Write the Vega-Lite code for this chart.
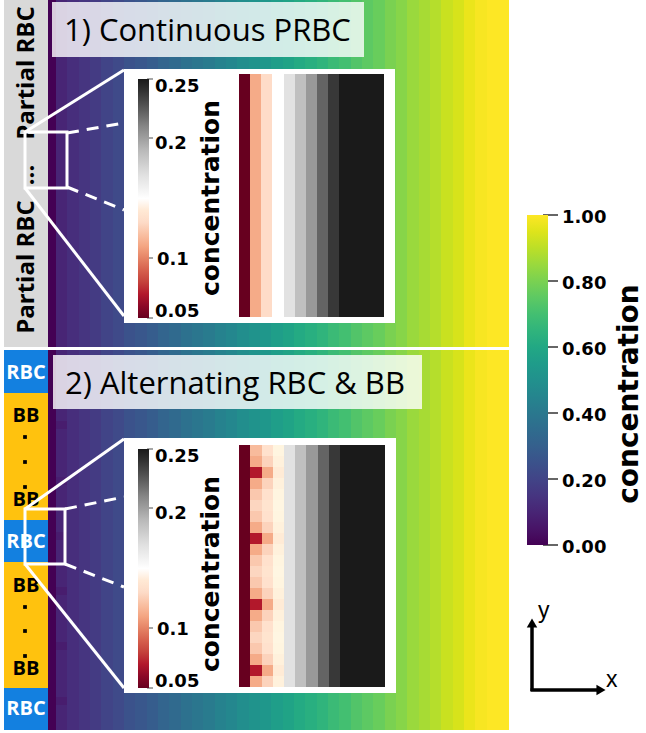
{
  "$schema": "https://vega.github.io/schema/vega-lite/v6.json",
  "width": 646,
  "height": 733,
  "padding": 0,
  "autosize": {"type": "none"},
  "background": "white",
  "config": {"view": {"stroke": null}},
  "datasets": {
    "field": [
      {"left":48,"right":56,"top":0,"bottom":347,"concentration":0},
      {"left":56,"right":67,"top":0,"bottom":347,"concentration":0.10},
      {"left":67,"right":79,"top":0,"bottom":347,"concentration":0.13},
      {"left":79,"right":90,"top":0,"bottom":347,"concentration":0.15},
      {"left":90,"right":101,"top":0,"bottom":347,"concentration":0.17},
      {"left":101,"right":113,"top":0,"bottom":347,"concentration":0.20},
      {"left":113,"right":124,"top":0,"bottom":347,"concentration":0.22},
      {"left":124,"right":135,"top":0,"bottom":347,"concentration":0.25},
      {"left":135,"right":147,"top":0,"bottom":347,"concentration":0.27},
      {"left":147,"right":158,"top":0,"bottom":347,"concentration":0.29},
      {"left":158,"right":169,"top":0,"bottom":347,"concentration":0.32},
      {"left":169,"right":181,"top":0,"bottom":347,"concentration":0.34},
      {"left":181,"right":192,"top":0,"bottom":347,"concentration":0.37},
      {"left":192,"right":203,"top":0,"bottom":347,"concentration":0.39},
      {"left":203,"right":215,"top":0,"bottom":347,"concentration":0.41},
      {"left":215,"right":226,"top":0,"bottom":347,"concentration":0.44},
      {"left":226,"right":237,"top":0,"bottom":347,"concentration":0.46},
      {"left":237,"right":249,"top":0,"bottom":347,"concentration":0.49},
      {"left":249,"right":260,"top":0,"bottom":347,"concentration":0.51},
      {"left":260,"right":271,"top":0,"bottom":347,"concentration":0.53},
      {"left":271,"right":283,"top":0,"bottom":347,"concentration":0.56},
      {"left":283,"right":294,"top":0,"bottom":347,"concentration":0.58},
      {"left":294,"right":305,"top":0,"bottom":347,"concentration":0.61},
      {"left":305,"right":317,"top":0,"bottom":347,"concentration":0.63},
      {"left":317,"right":328,"top":0,"bottom":347,"concentration":0.65},
      {"left":328,"right":339,"top":0,"bottom":347,"concentration":0.68},
      {"left":339,"right":351,"top":0,"bottom":347,"concentration":0.70},
      {"left":351,"right":362,"top":0,"bottom":347,"concentration":0.73},
      {"left":362,"right":373,"top":0,"bottom":347,"concentration":0.75},
      {"left":373,"right":385,"top":0,"bottom":347,"concentration":0.77},
      {"left":385,"right":396,"top":0,"bottom":347,"concentration":0.80},
      {"left":396,"right":407,"top":0,"bottom":347,"concentration":0.82},
      {"left":407,"right":419,"top":0,"bottom":347,"concentration":0.85},
      {"left":419,"right":430,"top":0,"bottom":347,"concentration":0.87},
      {"left":430,"right":441,"top":0,"bottom":347,"concentration":0.89},
      {"left":441,"right":453,"top":0,"bottom":347,"concentration":0.92},
      {"left":453,"right":464,"top":0,"bottom":347,"concentration":0.94},
      {"left":464,"right":475,"top":0,"bottom":347,"concentration":0.97},
      {"left":475,"right":487,"top":0,"bottom":347,"concentration":0.99},
      {"left":487,"right":498,"top":0,"bottom":347,"concentration":1.0},
      {"left":498,"right":509,"top":0,"bottom":347,"concentration":1.0},
      {"left":48,"right":56,"top":350,"bottom":730,"concentration":0},
      {"left":56,"right":67,"top":350,"bottom":730,"concentration":0.10},
      {"left":67,"right":79,"top":350,"bottom":730,"concentration":0.13},
      {"left":79,"right":90,"top":350,"bottom":730,"concentration":0.15},
      {"left":90,"right":101,"top":350,"bottom":730,"concentration":0.17},
      {"left":101,"right":113,"top":350,"bottom":730,"concentration":0.20},
      {"left":113,"right":124,"top":350,"bottom":730,"concentration":0.22},
      {"left":124,"right":135,"top":350,"bottom":730,"concentration":0.25},
      {"left":135,"right":147,"top":350,"bottom":730,"concentration":0.27},
      {"left":147,"right":158,"top":350,"bottom":730,"concentration":0.29},
      {"left":158,"right":169,"top":350,"bottom":730,"concentration":0.32},
      {"left":169,"right":181,"top":350,"bottom":730,"concentration":0.34},
      {"left":181,"right":192,"top":350,"bottom":730,"concentration":0.37},
      {"left":192,"right":203,"top":350,"bottom":730,"concentration":0.39},
      {"left":203,"right":215,"top":350,"bottom":730,"concentration":0.41},
      {"left":215,"right":226,"top":350,"bottom":730,"concentration":0.44},
      {"left":226,"right":237,"top":350,"bottom":730,"concentration":0.46},
      {"left":237,"right":249,"top":350,"bottom":730,"concentration":0.49},
      {"left":249,"right":260,"top":350,"bottom":730,"concentration":0.51},
      {"left":260,"right":271,"top":350,"bottom":730,"concentration":0.53},
      {"left":271,"right":283,"top":350,"bottom":730,"concentration":0.56},
      {"left":283,"right":294,"top":350,"bottom":730,"concentration":0.58},
      {"left":294,"right":305,"top":350,"bottom":730,"concentration":0.61},
      {"left":305,"right":317,"top":350,"bottom":730,"concentration":0.63},
      {"left":317,"right":328,"top":350,"bottom":730,"concentration":0.65},
      {"left":328,"right":339,"top":350,"bottom":730,"concentration":0.68},
      {"left":339,"right":351,"top":350,"bottom":730,"concentration":0.70},
      {"left":351,"right":362,"top":350,"bottom":730,"concentration":0.73},
      {"left":362,"right":373,"top":350,"bottom":730,"concentration":0.75},
      {"left":373,"right":385,"top":350,"bottom":730,"concentration":0.77},
      {"left":385,"right":396,"top":350,"bottom":730,"concentration":0.80},
      {"left":396,"right":407,"top":350,"bottom":730,"concentration":0.82},
      {"left":407,"right":419,"top":350,"bottom":730,"concentration":0.85},
      {"left":419,"right":430,"top":350,"bottom":730,"concentration":0.87},
      {"left":430,"right":441,"top":350,"bottom":730,"concentration":0.89},
      {"left":441,"right":453,"top":350,"bottom":730,"concentration":0.92},
      {"left":453,"right":464,"top":350,"bottom":730,"concentration":0.94},
      {"left":464,"right":475,"top":350,"bottom":730,"concentration":0.97},
      {"left":475,"right":487,"top":350,"bottom":730,"concentration":0.99},
      {"left":487,"right":498,"top":350,"bottom":730,"concentration":1.0},
      {"left":498,"right":509,"top":350,"bottom":730,"concentration":1.0},
      {"left":56,"right":67,"top":421,"bottom":429,"concentration":0.075},
      {"left":56,"right":67,"top":477,"bottom":485,"concentration":0.08},
      {"left":56,"right":67,"top":532,"bottom":540,"concentration":0.075},
      {"left":56,"right":67,"top":587,"bottom":595,"concentration":0.075},
      {"left":56,"right":67,"top":642,"bottom":650,"concentration":0.075},
      {"left":56,"right":67,"top":697,"bottom":705,"concentration":0.075}
    ],
    "blocks": [
      {"left":4,"right":48,"top":0,"bottom":347,"kind":"Partial RBC"},
      {"left":4,"right":48,"top":350,"bottom":393,"kind":"RBC"},
      {"left":4,"right":48,"top":393,"bottom":520,"kind":"BB"},
      {"left":4,"right":48,"top":520,"bottom":562,"kind":"RBC"},
      {"left":4,"right":48,"top":562,"bottom":688,"kind":"BB"},
      {"left":4,"right":48,"top":688,"bottom":730,"kind":"RBC"}
    ],
    "rotated_labels": [
      {"x":26.5,"y":73,"label":"Partial RBC"},
      {"x":26.5,"y":175,"label":"..."},
      {"x":26.5,"y":267,"label":"Partial RBC"}
    ],
    "rbc_labels": [
      {"x":26,"y":373,"label":"RBC"},
      {"x":26,"y":542,"label":"RBC"},
      {"x":26,"y":709,"label":"RBC"}
    ],
    "bb_labels": [
      {"x":26,"y":416,"label":"BB"},
      {"x":26,"y":500,"label":"BB"},
      {"x":26,"y":586,"label":"BB"},
      {"x":26,"y":669,"label":"BB"}
    ],
    "dots": [
      {"x":25,"y":437},{"x":25,"y":462},{"x":25,"y":487},
      {"x":25,"y":607},{"x":25,"y":631},{"x":25,"y":656}
    ],
    "title_boxes": [
      {"left":52,"right":364,"top":2,"bottom":57},
      {"left":53,"right":422,"top":355,"bottom":409}
    ],
    "title_texts": [
      {"x":64,"y":41,"label":"1) Continuous PRBC"},
      {"x":65,"y":394,"label":"2) Alternating RBC & BB"}
    ],
    "zoom_frames": [
      {"left":25,"right":67,"top":132,"bottom":188},
      {"left":25,"right":65,"top":509,"bottom":564}
    ],
    "solid_lines": [
      {"x":25,"y":132,"x_end":124,"y_end":70},
      {"x":25,"y":188,"x_end":124,"y_end":316},
      {"x":25,"y":509,"x_end":124,"y_end":439},
      {"x":25,"y":564,"x_end":124,"y_end":688}
    ],
    "dashed_lines": [
      {"x":67,"y":133,"x_end":124,"y_end":123},
      {"x":67,"y":187,"x_end":124,"y_end":210},
      {"x":65,"y":509,"x_end":124,"y_end":497},
      {"x":65,"y":564,"x_end":124,"y_end":587}
    ],
    "inset_boxes": [
      {"left":124,"right":395,"top":69,"bottom":323},
      {"left":124,"right":396,"top":438,"bottom":693}
    ],
    "inset1": [
      {"left":239,"right":250,"top":74,"bottom":317,"concentration":0.05},
      {"left":250,"right":261,"top":74,"bottom":317,"concentration":0.112},
      {"left":261,"right":272,"top":74,"bottom":317,"concentration":0.131},
      {"left":272,"right":284,"top":74,"bottom":317,"concentration":0.15},
      {"left":284,"right":295,"top":74,"bottom":317,"concentration":0.169},
      {"left":295,"right":306,"top":74,"bottom":317,"concentration":0.187},
      {"left":306,"right":317,"top":74,"bottom":317,"concentration":0.203},
      {"left":317,"right":328,"top":74,"bottom":317,"concentration":0.222},
      {"left":328,"right":339,"top":74,"bottom":317,"concentration":0.238},
      {"left":339,"right":350,"top":74,"bottom":317,"concentration":0.25},
      {"left":350,"right":361,"top":74,"bottom":317,"concentration":0.25},
      {"left":361,"right":373,"top":74,"bottom":317,"concentration":0.25},
      {"left":373,"right":384,"top":74,"bottom":317,"concentration":0.25}
    ],
    "inset2": [
      {"left":239,"right":250,"top":445,"bottom":687,"concentration":0.05},
      {"left":284,"right":295,"top":445,"bottom":687,"concentration":0.169},
      {"left":295,"right":306,"top":445,"bottom":687,"concentration":0.187},
      {"left":306,"right":318,"top":445,"bottom":687,"concentration":0.203},
      {"left":318,"right":329,"top":445,"bottom":687,"concentration":0.222},
      {"left":329,"right":340,"top":445,"bottom":687,"concentration":0.238},
      {"left":340,"right":351,"top":445,"bottom":687,"concentration":0.25},
      {"left":351,"right":362,"top":445,"bottom":687,"concentration":0.25},
      {"left":362,"right":374,"top":445,"bottom":687,"concentration":0.25},
      {"left":374,"right":385,"top":445,"bottom":687,"concentration":0.25},
      {"left":250,"right":262,"top":445,"bottom":456,"concentration":0.118},
      {"left":250,"right":262,"top":456,"bottom":467,"concentration":0.112},
      {"left":250,"right":262,"top":467,"bottom":478,"concentration":0.07},
      {"left":250,"right":262,"top":478,"bottom":489,"concentration":0.112},
      {"left":250,"right":262,"top":489,"bottom":500,"concentration":0.123},
      {"left":250,"right":262,"top":500,"bottom":511,"concentration":0.128},
      {"left":250,"right":262,"top":511,"bottom":522,"concentration":0.123},
      {"left":250,"right":262,"top":522,"bottom":533,"concentration":0.112},
      {"left":250,"right":262,"top":533,"bottom":544,"concentration":0.07},
      {"left":250,"right":262,"top":544,"bottom":555,"concentration":0.112},
      {"left":250,"right":262,"top":555,"bottom":566,"concentration":0.123},
      {"left":250,"right":262,"top":566,"bottom":577,"concentration":0.128},
      {"left":250,"right":262,"top":577,"bottom":588,"concentration":0.123},
      {"left":250,"right":262,"top":588,"bottom":599,"concentration":0.112},
      {"left":250,"right":262,"top":599,"bottom":610,"concentration":0.07},
      {"left":250,"right":262,"top":610,"bottom":621,"concentration":0.112},
      {"left":250,"right":262,"top":621,"bottom":632,"concentration":0.123},
      {"left":250,"right":262,"top":632,"bottom":643,"concentration":0.128},
      {"left":250,"right":262,"top":643,"bottom":654,"concentration":0.123},
      {"left":250,"right":262,"top":654,"bottom":665,"concentration":0.112},
      {"left":250,"right":262,"top":665,"bottom":676,"concentration":0.07},
      {"left":250,"right":262,"top":676,"bottom":687,"concentration":0.112},
      {"left":262,"right":273,"top":445,"bottom":456,"concentration":0.134},
      {"left":262,"right":273,"top":456,"bottom":467,"concentration":0.127},
      {"left":262,"right":273,"top":467,"bottom":478,"concentration":0.112},
      {"left":262,"right":273,"top":478,"bottom":489,"concentration":0.127},
      {"left":262,"right":273,"top":489,"bottom":500,"concentration":0.134},
      {"left":262,"right":273,"top":500,"bottom":511,"concentration":0.136},
      {"left":262,"right":273,"top":511,"bottom":522,"concentration":0.134},
      {"left":262,"right":273,"top":522,"bottom":533,"concentration":0.127},
      {"left":262,"right":273,"top":533,"bottom":544,"concentration":0.112},
      {"left":262,"right":273,"top":544,"bottom":555,"concentration":0.127},
      {"left":262,"right":273,"top":555,"bottom":566,"concentration":0.134},
      {"left":262,"right":273,"top":566,"bottom":577,"concentration":0.136},
      {"left":262,"right":273,"top":577,"bottom":588,"concentration":0.134},
      {"left":262,"right":273,"top":588,"bottom":599,"concentration":0.127},
      {"left":262,"right":273,"top":599,"bottom":610,"concentration":0.112},
      {"left":262,"right":273,"top":610,"bottom":621,"concentration":0.127},
      {"left":262,"right":273,"top":621,"bottom":632,"concentration":0.134},
      {"left":262,"right":273,"top":632,"bottom":643,"concentration":0.136},
      {"left":262,"right":273,"top":643,"bottom":654,"concentration":0.134},
      {"left":262,"right":273,"top":654,"bottom":665,"concentration":0.127},
      {"left":262,"right":273,"top":665,"bottom":676,"concentration":0.112},
      {"left":262,"right":273,"top":676,"bottom":687,"concentration":0.127},
      {"left":273,"right":284,"top":445,"bottom":456,"concentration":0.148},
      {"left":273,"right":284,"top":456,"bottom":467,"concentration":0.145},
      {"left":273,"right":284,"top":467,"bottom":478,"concentration":0.141},
      {"left":273,"right":284,"top":478,"bottom":489,"concentration":0.145},
      {"left":273,"right":284,"top":489,"bottom":500,"concentration":0.148},
      {"left":273,"right":284,"top":500,"bottom":511,"concentration":0.149},
      {"left":273,"right":284,"top":511,"bottom":522,"concentration":0.148},
      {"left":273,"right":284,"top":522,"bottom":533,"concentration":0.145},
      {"left":273,"right":284,"top":533,"bottom":544,"concentration":0.141},
      {"left":273,"right":284,"top":544,"bottom":555,"concentration":0.145},
      {"left":273,"right":284,"top":555,"bottom":566,"concentration":0.148},
      {"left":273,"right":284,"top":566,"bottom":577,"concentration":0.149},
      {"left":273,"right":284,"top":577,"bottom":588,"concentration":0.148},
      {"left":273,"right":284,"top":588,"bottom":599,"concentration":0.145},
      {"left":273,"right":284,"top":599,"bottom":610,"concentration":0.141},
      {"left":273,"right":284,"top":610,"bottom":621,"concentration":0.145},
      {"left":273,"right":284,"top":621,"bottom":632,"concentration":0.148},
      {"left":273,"right":284,"top":632,"bottom":643,"concentration":0.149},
      {"left":273,"right":284,"top":643,"bottom":654,"concentration":0.148},
      {"left":273,"right":284,"top":654,"bottom":665,"concentration":0.145},
      {"left":273,"right":284,"top":665,"bottom":676,"concentration":0.141},
      {"left":273,"right":284,"top":676,"bottom":687,"concentration":0.145}
    ],
    "inset_labels": [
      {"x":155,"y":87,"label":"0.25"},
      {"x":155,"y":144,"label":"0.2"},
      {"x":157,"y":260,"label":"0.1"},
      {"x":155,"y":312,"label":"0.05"},
      {"x":155,"y":457,"label":"0.25"},
      {"x":155,"y":514,"label":"0.2"},
      {"x":157,"y":630,"label":"0.1"},
      {"x":155,"y":682,"label":"0.05"}
    ],
    "inset_ticks": [
      {"x":147,"y":79,"x_end":153,"y_end":79},
      {"x":147,"y":138,"x_end":153,"y_end":138},
      {"x":147,"y":258,"x_end":153,"y_end":258},
      {"x":147,"y":318,"x_end":153,"y_end":318},
      {"x":147,"y":449,"x_end":153,"y_end":449},
      {"x":147,"y":508,"x_end":153,"y_end":508},
      {"x":147,"y":628,"x_end":153,"y_end":628},
      {"x":147,"y":688,"x_end":153,"y_end":688}
    ],
    "inset_titles": [
      {"x":211,"y":198,"label":"concentration"},
      {"x":211,"y":574,"label":"concentration"}
    ],
    "bar_ticks": [
      {"x":543,"y":215,"x_end":558,"y_end":215},
      {"x":543,"y":281,"x_end":558,"y_end":281},
      {"x":543,"y":347,"x_end":558,"y_end":347},
      {"x":543,"y":413,"x_end":558,"y_end":413},
      {"x":543,"y":479,"x_end":558,"y_end":479},
      {"x":543,"y":545,"x_end":558,"y_end":545}
    ],
    "bar_labels": [
      {"x":562,"y":218,"label":"1.00"},
      {"x":562,"y":284,"label":"0.80"},
      {"x":562,"y":350,"label":"0.60"},
      {"x":562,"y":416,"label":"0.40"},
      {"x":562,"y":482,"label":"0.20"},
      {"x":562,"y":548,"label":"0.00"}
    ],
    "bar_title": [{"x":630,"y":394,"label":"concentration"}],
    "arrow_lines": [
      {"x":532,"y":626,"x_end":532,"y_end":691},
      {"x":530.5,"y":690,"x_end":598,"y_end":690}
    ],
    "arrow_up": [{"x":532,"y":623}],
    "arrow_right": [{"x":601,"y":690}],
    "arrow_labels": [
      {"x":538,"y":618,"label":"y"},
      {"x":606,"y":687,"label":"x"}
    ]
  },
  "resolve": {"scale": {"color": "independent"}, "legend": {"color": "independent"}},
  "layer": [
    {
      "data": {"name": "field"},
      "mark": {"type": "rect"},
      "encoding": {
        "x": {"field": "left", "type": "quantitative", "scale": {"domain": [0, 646], "nice": false, "zero": false}, "axis": null},
        "x2": {"field": "right"},
        "y": {"field": "top", "type": "quantitative", "scale": {"domain": [0, 733], "reverse": true, "nice": false, "zero": false}, "axis": null},
        "y2": {"field": "bottom"},
        "color": {"field": "concentration", "type": "quantitative",
          "scale": {"scheme": "viridis", "domain": [0, 1], "clamp": true},
          "legend": {"orient": "none", "legendX": 527, "legendY": 215, "direction": "vertical", "gradientLength": 330, "gradientThickness": 21, "gradientStrokeWidth": 0, "title": null, "labelExpr": "''", "labelOpacity": 0, "padding": 0}}
      }
    },
    {
      "data": {"name": "blocks"},
      "mark": {"type": "rect"},
      "encoding": {
        "x": {"field": "left", "type": "quantitative", "axis": null},
        "x2": {"field": "right"},
        "y": {"field": "top", "type": "quantitative", "axis": null},
        "y2": {"field": "bottom"},
        "color": {"field": "kind", "type": "nominal", "scale": {"domain": ["Partial RBC", "RBC", "BB"], "range": ["#d9d9d9", "#1380e0", "#ffc20e"]}, "legend": null}
      }
    },
    {
      "data": {"name": "rotated_labels"},
      "mark": {"type": "text", "angle": 270, "font": "Open Sans", "fontWeight": "bold", "fontSize": 24, "align": "center", "baseline": "middle", "color": "black"},
      "encoding": {
        "x": {"field": "x", "type": "quantitative", "axis": null},
        "y": {"field": "y", "type": "quantitative", "axis": null},
        "text": {"field": "label"}
      }
    },
    {
      "data": {"name": "rbc_labels"},
      "mark": {"type": "text", "font": "Open Sans", "fontWeight": "bold", "fontSize": 20, "align": "center", "baseline": "middle", "color": "white"},
      "encoding": {
        "x": {"field": "x", "type": "quantitative", "axis": null},
        "y": {"field": "y", "type": "quantitative", "axis": null},
        "text": {"field": "label"}
      }
    },
    {
      "data": {"name": "bb_labels"},
      "mark": {"type": "text", "font": "Open Sans", "fontWeight": "bold", "fontSize": 20, "align": "center", "baseline": "middle", "color": "black"},
      "encoding": {
        "x": {"field": "x", "type": "quantitative", "axis": null},
        "y": {"field": "y", "type": "quantitative", "axis": null},
        "text": {"field": "label"}
      }
    },
    {
      "data": {"name": "dots"},
      "mark": {"type": "point", "shape": "square", "filled": true, "size": 14, "color": "black", "opacity": 1},
      "encoding": {
        "x": {"field": "x", "type": "quantitative", "axis": null},
        "y": {"field": "y", "type": "quantitative", "axis": null}
      }
    },
    {
      "data": {"name": "title_boxes"},
      "mark": {"type": "rect", "color": "white", "opacity": 0.8},
      "encoding": {
        "x": {"field": "left", "type": "quantitative", "axis": null},
        "x2": {"field": "right"},
        "y": {"field": "top", "type": "quantitative", "axis": null},
        "y2": {"field": "bottom"}
      }
    },
    {
      "data": {"name": "title_texts"},
      "mark": {"type": "text", "font": "Open Sans", "fontSize": 31, "align": "left", "baseline": "alphabetic", "color": "black"},
      "encoding": {
        "x": {"field": "x", "type": "quantitative", "axis": null},
        "y": {"field": "y", "type": "quantitative", "axis": null},
        "text": {"field": "label"}
      }
    },
    {
      "data": {"name": "zoom_frames"},
      "mark": {"type": "rect", "filled": false, "color": "white", "strokeWidth": 3},
      "encoding": {
        "x": {"field": "left", "type": "quantitative", "axis": null},
        "x2": {"field": "right"},
        "y": {"field": "top", "type": "quantitative", "axis": null},
        "y2": {"field": "bottom"}
      }
    },
    {
      "data": {"name": "solid_lines"},
      "mark": {"type": "rule", "color": "white", "strokeWidth": 3},
      "encoding": {
        "x": {"field": "x", "type": "quantitative", "axis": null},
        "y": {"field": "y", "type": "quantitative", "axis": null},
        "x2": {"field": "x_end"},
        "y2": {"field": "y_end"}
      }
    },
    {
      "data": {"name": "dashed_lines"},
      "mark": {"type": "rule", "color": "white", "strokeWidth": 3, "strokeDash": [12, 8]},
      "encoding": {
        "x": {"field": "x", "type": "quantitative", "axis": null},
        "y": {"field": "y", "type": "quantitative", "axis": null},
        "x2": {"field": "x_end"},
        "y2": {"field": "y_end"}
      }
    },
    {
      "data": {"name": "inset_boxes"},
      "mark": {"type": "rect", "color": "white"},
      "encoding": {
        "x": {"field": "left", "type": "quantitative", "axis": null},
        "x2": {"field": "right"},
        "y": {"field": "top", "type": "quantitative", "axis": null},
        "y2": {"field": "bottom"}
      }
    },
    {
      "data": {"name": "inset1"},
      "mark": {"type": "rect"},
      "encoding": {
        "x": {"field": "left", "type": "quantitative", "axis": null},
        "x2": {"field": "right"},
        "y": {"field": "top", "type": "quantitative", "axis": null},
        "y2": {"field": "bottom"},
        "color": {"field": "concentration", "type": "quantitative",
          "scale": {"domain": [0.05, 0.07, 0.09, 0.11, 0.13, 0.15, 0.17, 0.19, 0.21, 0.23, 0.25], "range": ["#67001f", "#b2182b", "#d6604d", "#f4a582", "#fddbc7", "#ffffff", "#e0e0e0", "#bababa", "#878787", "#4d4d4d", "#1a1a1a"], "clamp": true},
          "legend": {"orient": "none", "legendX": 138, "legendY": 79, "direction": "vertical", "gradientLength": 239, "gradientThickness": 11, "gradientStrokeWidth": 0, "title": null, "labelExpr": "''", "labelOpacity": 0, "padding": 0}}
      }
    },
    {
      "data": {"name": "inset2"},
      "mark": {"type": "rect"},
      "encoding": {
        "x": {"field": "left", "type": "quantitative", "axis": null},
        "x2": {"field": "right"},
        "y": {"field": "top", "type": "quantitative", "axis": null},
        "y2": {"field": "bottom"},
        "color": {"field": "concentration", "type": "quantitative",
          "scale": {"domain": [0.05, 0.07, 0.09, 0.11, 0.13, 0.15, 0.17, 0.19, 0.21, 0.23, 0.25], "range": ["#67001f", "#b2182b", "#d6604d", "#f4a582", "#fddbc7", "#ffffff", "#e0e0e0", "#bababa", "#878787", "#4d4d4d", "#1a1a1a"], "clamp": true},
          "legend": {"orient": "none", "legendX": 138, "legendY": 449, "direction": "vertical", "gradientLength": 239, "gradientThickness": 11, "gradientStrokeWidth": 0, "title": null, "labelExpr": "''", "labelOpacity": 0, "padding": 0}}
      }
    },
    {
      "data": {"name": "inset_ticks"},
      "mark": {"type": "rule", "color": "#888888", "strokeWidth": 1.5},
      "encoding": {
        "x": {"field": "x", "type": "quantitative", "axis": null},
        "y": {"field": "y", "type": "quantitative", "axis": null},
        "x2": {"field": "x_end"},
        "y2": {"field": "y_end"}
      }
    },
    {
      "data": {"name": "inset_labels"},
      "mark": {"type": "text", "font": "DejaVu Sans", "fontWeight": "bold", "fontSize": 18, "align": "left", "baseline": "middle", "color": "black"},
      "encoding": {
        "x": {"field": "x", "type": "quantitative", "axis": null},
        "y": {"field": "y", "type": "quantitative", "axis": null},
        "text": {"field": "label"}
      }
    },
    {
      "data": {"name": "inset_titles"},
      "mark": {"type": "text", "angle": 270, "font": "DejaVu Sans", "fontWeight": "bold", "fontSize": 25, "align": "center", "baseline": "middle", "color": "black"},
      "encoding": {
        "x": {"field": "x", "type": "quantitative", "axis": null},
        "y": {"field": "y", "type": "quantitative", "axis": null},
        "text": {"field": "label"}
      }
    },
    {
      "data": {"name": "bar_ticks"},
      "mark": {"type": "rule", "color": "#333333", "strokeWidth": 1.5},
      "encoding": {
        "x": {"field": "x", "type": "quantitative", "axis": null},
        "y": {"field": "y", "type": "quantitative", "axis": null},
        "x2": {"field": "x_end"},
        "y2": {"field": "y_end"}
      }
    },
    {
      "data": {"name": "bar_labels"},
      "mark": {"type": "text", "font": "DejaVu Sans", "fontWeight": "bold", "fontSize": 18, "align": "left", "baseline": "middle", "color": "black"},
      "encoding": {
        "x": {"field": "x", "type": "quantitative", "axis": null},
        "y": {"field": "y", "type": "quantitative", "axis": null},
        "text": {"field": "label"}
      }
    },
    {
      "data": {"name": "bar_title"},
      "mark": {"type": "text", "angle": 270, "font": "DejaVu Sans", "fontWeight": "bold", "fontSize": 28, "align": "center", "baseline": "middle", "color": "black"},
      "encoding": {
        "x": {"field": "x", "type": "quantitative", "axis": null},
        "y": {"field": "y", "type": "quantitative", "axis": null},
        "text": {"field": "label"}
      }
    },
    {
      "data": {"name": "arrow_lines"},
      "mark": {"type": "rule", "color": "black", "strokeWidth": 3.5},
      "encoding": {
        "x": {"field": "x", "type": "quantitative", "axis": null},
        "y": {"field": "y", "type": "quantitative", "axis": null},
        "x2": {"field": "x_end"},
        "y2": {"field": "y_end"}
      }
    },
    {
      "data": {"name": "arrow_up"},
      "mark": {"type": "point", "shape": "triangle-up", "filled": true, "size": 110, "color": "black", "opacity": 1},
      "encoding": {
        "x": {"field": "x", "type": "quantitative", "axis": null},
        "y": {"field": "y", "type": "quantitative", "axis": null}
      }
    },
    {
      "data": {"name": "arrow_right"},
      "mark": {"type": "point", "shape": "triangle-right", "filled": true, "size": 110, "color": "black", "opacity": 1},
      "encoding": {
        "x": {"field": "x", "type": "quantitative", "axis": null},
        "y": {"field": "y", "type": "quantitative", "axis": null}
      }
    },
    {
      "data": {"name": "arrow_labels"},
      "mark": {"type": "text", "font": "Liberation Sans", "fontSize": 23, "align": "left", "baseline": "alphabetic", "color": "black"},
      "encoding": {
        "x": {"field": "x", "type": "quantitative", "axis": null},
        "y": {"field": "y", "type": "quantitative", "axis": null},
        "text": {"field": "label"}
      }
    }
  ]
}
